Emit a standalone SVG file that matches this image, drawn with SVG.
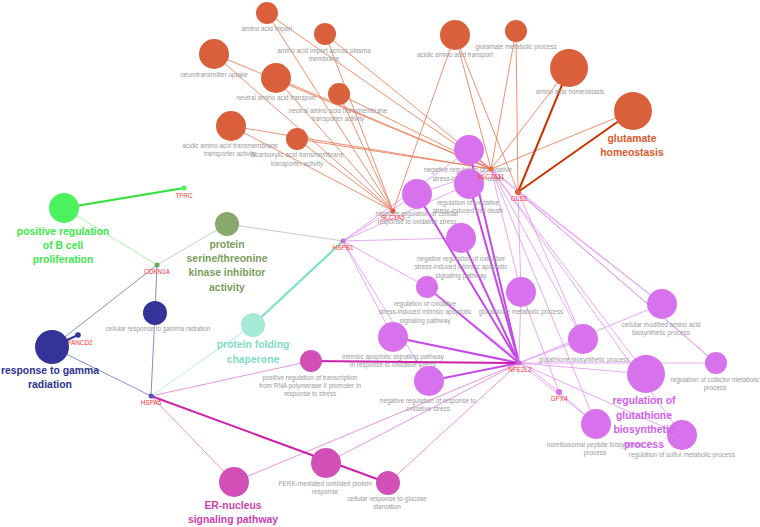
<svg xmlns="http://www.w3.org/2000/svg" width="760" height="527" viewBox="0 0 760 527">
<style>
text{font-family:"Liberation Sans",Arial,sans-serif;text-anchor:middle}
.t{font-size:6.4px;fill:#9a9a9a}
.g{font-size:6.4px;fill:#ff3333}
.b{font-size:10.4px;font-weight:bold}
line{stroke-linecap:round}
.eo{stroke:#e8744c;stroke-width:0.8}
.eoT{stroke:#cc3300;stroke-width:2}
.ep{stroke:#e292f5;stroke-width:0.8}
.epT{stroke:#c548ea;stroke-width:2}
.em{stroke:#e27ad0;stroke-width:0.8}
.emT{stroke:#cc22aa;stroke-width:2}
.eb{stroke:#6c6cc8;stroke-width:0.8}
.ebT{stroke:#333399;stroke-width:2}
.eg{stroke:#90f090;stroke-width:0.8}
.egT{stroke:#33e040;stroke-width:2}
.eol{stroke:#b4c4a4;stroke-width:0.8}
.emi{stroke:#a2ead6;stroke-width:0.8}
.emiT{stroke:#7fe0c4;stroke-width:2.2}
.o{fill:#d9603b}
.p{fill:#d872ec}
.m{fill:#d24fb8}
.bl{fill:#333399}
</style>
<rect width="760" height="527" fill="#ffffff"/>
<g id="connectors" fill="none">
<!-- orange to SLC1A5 -->
<line class="eo" x1="267" y1="13" x2="393" y2="211"/>
<line class="eo" x1="325" y1="34" x2="393" y2="211"/>
<line class="eo" x1="214" y1="54" x2="393" y2="211"/>
<line class="eo" x1="276" y1="78" x2="393" y2="211"/>
<line class="eo" x1="339" y1="94" x2="393" y2="211"/>
<line class="eo" x1="231" y1="126" x2="393" y2="211"/>
<line class="eo" x1="297" y1="139" x2="393" y2="211"/>
<line class="eo" x1="455" y1="35" x2="393" y2="211"/>
<!-- orange to SLC7A11 -->
<line class="eo" x1="267" y1="13" x2="491" y2="169"/>
<line class="eo" x1="325" y1="34" x2="491" y2="169"/>
<line class="eo" x1="214" y1="54" x2="491" y2="169"/>
<line class="eo" x1="276" y1="78" x2="491" y2="169"/>
<line class="eo" x1="339" y1="94" x2="491" y2="169"/>
<line class="eo" x1="231" y1="126" x2="491" y2="169"/>
<line class="eo" x1="297" y1="139" x2="491" y2="169"/>
<line class="eo" x1="455" y1="35" x2="491" y2="169"/>
<line class="eo" x1="516" y1="31" x2="491" y2="169"/>
<line class="eo" x1="569" y1="68" x2="491" y2="169"/>
<line class="eo" x1="633" y1="111" x2="491" y2="169"/>
<!-- orange to GLS2 -->
<line class="eo" x1="516" y1="31" x2="518" y2="192"/>
<line class="eo" x1="455" y1="35" x2="518" y2="192"/>
<line class="eoT" x1="569" y1="68" x2="518" y2="192"/>
<line class="eoT" x1="633" y1="111" x2="518" y2="192"/>
<!-- purple: HSPB1 -->
<line class="ep" x1="343" y1="241" x2="469" y2="150"/>
<line class="ep" x1="343" y1="241" x2="469" y2="184"/>
<line class="ep" x1="343" y1="241" x2="417" y2="194"/>
<line class="ep" x1="343" y1="241" x2="461" y2="238"/>
<line class="ep" x1="343" y1="241" x2="427" y2="287"/>
<line class="ep" x1="343" y1="241" x2="393" y2="337"/>
<line class="ep" x1="343" y1="241" x2="429" y2="381"/>
<!-- purple: SLC7A11 -->
<line class="ep" x1="491" y1="169" x2="417" y2="194"/>
<line class="ep" x1="491" y1="169" x2="469" y2="150"/>
<line class="ep" x1="491" y1="169" x2="469" y2="184"/>
<line class="ep" x1="491" y1="169" x2="521" y2="292"/>
<line class="ep" x1="491" y1="169" x2="662" y2="304"/>
<line class="ep" x1="491" y1="169" x2="583" y2="339"/>
<line class="ep" x1="491" y1="169" x2="646" y2="374"/>
<line class="ep" x1="491" y1="169" x2="716" y2="363"/>
<line class="ep" x1="491" y1="169" x2="596" y2="424"/>
<line class="ep" x1="491" y1="169" x2="682" y2="435"/>
<!-- purple: GLS2 -->
<line class="ep" x1="518" y1="192" x2="521" y2="292"/>
<line class="ep" x1="518" y1="192" x2="662" y2="304"/>
<line class="ep" x1="518" y1="192" x2="716" y2="363"/>
<line class="ep" x1="518" y1="192" x2="583" y2="339"/>
<!-- purple: NFE2L2 -->
<line class="epT" x1="519" y1="363" x2="469" y2="150"/>
<line class="epT" x1="519" y1="363" x2="469" y2="184"/>
<line class="epT" x1="519" y1="363" x2="417" y2="194"/>
<line class="epT" x1="519" y1="363" x2="461" y2="238"/>
<line class="epT" x1="519" y1="363" x2="427" y2="287"/>
<line class="epT" x1="519" y1="363" x2="393" y2="337"/>
<line class="epT" x1="519" y1="363" x2="429" y2="381"/>
<line class="ep" x1="519" y1="363" x2="521" y2="292"/>
<line class="ep" x1="519" y1="363" x2="662" y2="304"/>
<line class="ep" x1="519" y1="363" x2="583" y2="339"/>
<line class="ep" x1="519" y1="363" x2="646" y2="374"/>
<line class="ep" x1="519" y1="363" x2="716" y2="363"/>
<line class="ep" x1="519" y1="363" x2="596" y2="424"/>
<line class="ep" x1="519" y1="363" x2="682" y2="435"/>
<!-- purple: GPX4 -->
<line class="ep" x1="559" y1="392" x2="427" y2="287"/>
<line class="ep" x1="559" y1="392" x2="596" y2="424"/>
<line class="ep" x1="559" y1="392" x2="521" y2="292"/>
<!-- magenta -->
<line class="emT" x1="519" y1="363" x2="311" y2="361"/>
<line class="em" x1="151" y1="396" x2="311" y2="361"/>
<line class="em" x1="151" y1="396" x2="234" y2="482"/>
<line class="em" x1="519" y1="363" x2="234" y2="482"/>
<line class="em" x1="519" y1="363" x2="326" y2="463"/>
<line class="em" x1="519" y1="363" x2="388" y2="483"/>
<line class="emT" x1="151" y1="396" x2="388" y2="483"/>
<!-- blue -->
<line class="eb" x1="157" y1="265" x2="52" y2="347"/>
<line class="eb" x1="157" y1="265" x2="155" y2="313"/>
<line class="eb" x1="151" y1="396" x2="155" y2="313"/>
<line class="eb" x1="151" y1="396" x2="52" y2="347"/>
<line class="ebT" x1="78" y1="335" x2="52" y2="347"/>
<!-- green / olive / mint -->
<line class="egT" x1="64" y1="208" x2="184" y2="188"/>
<line class="eg" x1="64" y1="208" x2="157" y2="265"/>
<line class="eol" x1="227" y1="224" x2="157" y2="265"/>
<line class="eol" x1="227" y1="224" x2="343" y2="241"/>
<line class="emiT" x1="253" y1="325" x2="343" y2="241"/>
<line class="emi" x1="253" y1="325" x2="151" y2="396"/>
</g>

<g id="amino_acid_import"><circle class="o" cx="267" cy="13" r="11"/><text class="t" x="267" y="31">amino acid import</text></g>
<g id="aa_import_plasma"><circle class="o" cx="325" cy="34" r="11"/><text class="t" x="324" y="53">amino acid import across plasma</text><text class="t" x="324" y="61">membrane</text></g>
<g id="neurotransmitter_uptake"><circle class="o" cx="214" cy="54" r="15"/><text class="t" x="214" y="77">neurotransmitter uptake</text></g>
<g id="neutral_aa_transport"><circle class="o" cx="276" cy="78" r="15"/><text class="t" x="276" y="100">neutral amino acid transport</text></g>
<g id="neutral_aa_tm"><circle class="o" cx="339" cy="94" r="11"/><text class="t" x="338" y="113">neutral amino acid transmembrane</text><text class="t" x="338" y="121">transporter activity</text></g>
<g id="acidic_aa_tm"><circle class="o" cx="231" cy="126" r="15"/><text class="t" x="230" y="148">acidic amino acid transmembrane</text><text class="t" x="230" y="156">transporter activity</text></g>
<g id="dicarboxylic"><circle class="o" cx="297" cy="139" r="11"/><text class="t" x="297" y="157">dicarboxylic acid transmembrane</text><text class="t" x="297" y="166">transporter activity</text></g>
<g id="acidic_aa_transport"><circle class="o" cx="455" cy="35" r="15"/><text class="t" x="455" y="57">acidic amino acid transport</text></g>
<g id="glutamate_metabolic"><circle class="o" cx="516" cy="31" r="11"/><text class="t" x="516" y="49">glutamate metabolic process</text></g>
<g id="aa_homeostasis"><circle class="o" cx="569" cy="68" r="19"/><text class="t" x="570" y="94">amino acid homeostasis</text></g>
<g id="glutamate_homeostasis"><circle class="o" cx="633" cy="111" r="19"/><text class="b" x="632" y="142" fill="#dc5a2c">glutamate</text><text class="b" x="632" y="156" fill="#dc5a2c">homeostasis</text></g>

<g id="nr_ox_cell_death"><circle class="p" cx="469" cy="150" r="15"/><text class="t" x="468" y="172">negative regulation of oxidative</text><text class="t" x="468" y="181">stress-induced cell death</text></g>
<g id="r_ox_cell_death"><circle class="p" cx="469" cy="184" r="15"/><text class="t" x="468" y="205">regulation of oxidative</text><text class="t" x="468" y="213">stress-induced cell death</text></g>
<g id="nr_cell_resp_ox"><circle class="p" cx="417" cy="194" r="15"/><text class="t" x="417" y="216">negative regulation of cellular</text><text class="t" x="417" y="224">response to oxidative stress</text></g>
<g id="nr_ox_intr_apop"><circle class="p" cx="461" cy="238" r="15"/><text class="t" x="461" y="261">negative regulation of oxidative</text><text class="t" x="461" y="269">stress-induced intrinsic apoptotic</text><text class="t" x="461" y="278">signaling pathway</text></g>
<g id="r_ox_intr_apop"><circle class="p" cx="427" cy="287" r="11"/><text class="t" x="425" y="306">regulation of oxidative</text><text class="t" x="425" y="314">stress-induced intrinsic apoptotic</text><text class="t" x="425" y="323">signaling pathway</text></g>
<g id="glutathione_metabolic"><circle class="p" cx="521" cy="292" r="15"/><text class="t" x="521" y="314">glutathione metabolic process</text></g>
<g id="cell_mod_aa_bio"><circle class="p" cx="662" cy="304" r="15"/><text class="t" x="661" y="327">cellular modified amino acid</text><text class="t" x="661" y="335">biosynthetic process</text></g>
<g id="intr_apop_ox"><circle class="p" cx="393" cy="337" r="15"/><text class="t" x="393" y="359">intrinsic apoptotic signaling pathway</text><text class="t" x="393" y="367">in response to oxidative stress</text></g>
<g id="glutathione_bio"><circle class="p" cx="583" cy="339" r="15"/><text class="t" x="584" y="362">glutathione biosynthetic process</text></g>
<g id="nr_resp_ox"><circle class="p" cx="429" cy="381" r="15"/><text class="t" x="428" y="403">negative regulation of response to</text><text class="t" x="428" y="411">oxidative stress</text></g>
<g id="r_cofactor"><circle class="p" cx="716" cy="363" r="11"/><text class="t" x="715" y="382">regulation of cofactor metabolic</text><text class="t" x="715" y="390">process</text></g>
<g id="nonribosomal"><circle class="p" cx="596" cy="424" r="15"/><text class="t" x="595" y="447">nonribosomal peptide biosynthetic</text><text class="t" x="595" y="455">process</text></g>
<g id="r_glutathione_bio"><circle class="p" cx="646" cy="374" r="19"/></g>
<g id="r_sulfur"><circle class="p" cx="682" cy="435" r="15"/><text class="t" x="682" y="457">regulation of sulfur metabolic process</text></g>
<g id="r_glutathione_bio_label"><text class="b" x="644" y="404" fill="#d35ef0">regulation of</text><text class="b" x="644" y="419" fill="#d35ef0">glutathione</text><text class="b" x="644" y="433" fill="#d35ef0">biosynthetic</text><text class="b" x="644" y="448" fill="#d35ef0">process</text></g>

<g id="pos_reg_transcription"><circle class="m" cx="311" cy="361" r="11"/><text class="t" x="310" y="380">positive regulation of transcription</text><text class="t" x="310" y="388">from RNA polymerase II promoter in</text><text class="t" x="310" y="396">response to stress</text></g>
<g id="perk"><circle class="m" cx="326" cy="463" r="15"/><text class="t" x="325" y="486">PERK-mediated unfolded protein</text><text class="t" x="325" y="494">response</text></g>
<g id="glucose_starvation"><circle class="m" cx="388" cy="483" r="12"/><text class="t" x="387" y="501">cellular response to glucose</text><text class="t" x="387" y="509">starvation</text></g>
<g id="er_nucleus"><circle class="m" cx="234" cy="482" r="15"/><text class="b" x="233" y="509" fill="#cc3fae">ER-nucleus</text><text class="b" x="233" y="523" fill="#cc3fae">signaling pathway</text></g>

<g id="b_cell"><circle cx="64" cy="208" r="15" fill="#4cf25e"/><text class="b" x="63" y="235" fill="#3ee84a">positive regulation</text><text class="b" x="63" y="249" fill="#3ee84a">of B cell</text><text class="b" x="63" y="263" fill="#3ee84a">proliferation</text></g>
<g id="kinase_inhibitor"><circle cx="227" cy="224" r="12" fill="#88a86c"/><text class="b" x="227" y="248" fill="#7c9c60">protein</text><text class="b" x="227" y="262" fill="#7c9c60">serine/threonine</text><text class="b" x="227" y="276" fill="#7c9c60">kinase inhibitor</text><text class="b" x="227" y="291" fill="#7c9c60">activity</text></g>
<g id="folding_chaperone"><circle cx="253" cy="325" r="12" fill="#a6e9d6"/><text class="b" x="253" y="348" fill="#7fdcc4">protein folding</text><text class="b" x="253" y="363" fill="#7fdcc4">chaperone</text></g>
<g id="cell_resp_gamma"><circle class="bl" cx="155" cy="313" r="12"/><text class="t" x="158" y="331">cellular response to gamma radiation</text></g>
<g id="resp_gamma"><circle class="bl" cx="52" cy="347" r="17"/><text class="b" x="50" y="374" fill="#2e3192">response to gamma</text><text class="b" x="50" y="388" fill="#2e3192">radiation</text></g>

<g id="SLC7A11"><circle cx="491" cy="169" r="2.5" fill="#e0703a"/><text class="g" x="491" y="179">SLC7A11</text></g>
<g id="GLS2"><circle cx="518" cy="192" r="3" fill="#d9603b"/><text class="g" x="519" y="201">GLS2</text></g>
<g id="SLC1A5"><circle cx="393" cy="211" r="2.5" fill="#d9603b"/><text class="g" x="393" y="220">SLC1A5</text></g>
<g id="HSPB1"><circle cx="343" cy="241" r="2.5" fill="#c070d8"/><text class="g" x="343" y="250">HSPB1</text></g>
<g id="CDKN1A"><circle cx="157" cy="265" r="2.5" fill="#6aa860"/><text class="g" x="157" y="274">CDKN1A</text></g>
<g id="TFRC"><circle cx="184" cy="188" r="2.5" fill="#4cf25e"/><text class="g" x="184" y="198">TFRC</text></g>
<g id="FANCD2"><circle cx="78" cy="335" r="2.8" fill="#333399"/><text class="g" x="80" y="345">FANCD2</text></g>
<g id="HSPA5"><circle cx="151" cy="396" r="2.5" fill="#5050b0"/><text class="g" x="151" y="405">HSPA5</text></g>
<g id="NFE2L2"><circle cx="519" cy="363" r="2.5" fill="#d060e8"/><text class="g" x="520" y="372">NFE2L2</text></g>
<g id="GPX4"><circle cx="559" cy="392" r="3" fill="#d872ec"/><text class="g" x="559" y="401">GPX4</text></g>
</svg>
